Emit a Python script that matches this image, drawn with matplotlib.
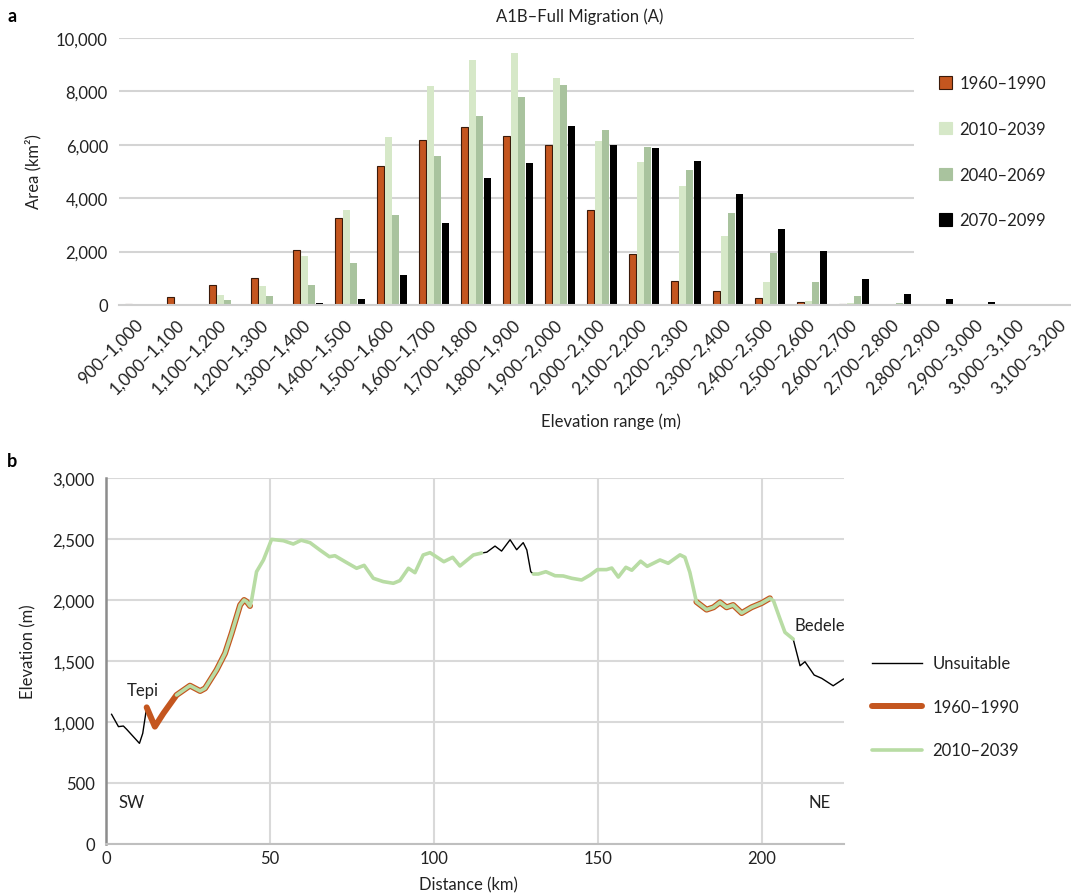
import numpy as np
import matplotlib.pyplot as plt
from matplotlib.patches import Patch
from matplotlib.lines import Line2D
from matplotlib.ticker import FuncFormatter

plt.rcParams['font.family'] = ['Lato', 'DejaVu Sans']

# ---- panel a data: area (km2) per elevation band ----
bands = ['900–1,000', '1,000–1,100', '1,100–1,200', '1,200–1,300', '1,300–1,400',
         '1,400–1,500', '1,500–1,600', '1,600–1,700', '1,700–1,800', '1,800–1,900',
         '1,900–2,000', '2,000–2,100', '2,100–2,200', '2,200–2,300', '2,300–2,400',
         '2,400–2,500', '2,500–2,600', '2,600–2,700', '2,700–2,800', '2,800–2,900',
         '2,900–3,000', '3,000–3,100', '3,100–3,200']
a1960 = [40, 310, 740, 1010, 2050, 3240, 5210, 6180, 6660, 6330, 5980, 3550,
         1910, 890, 530, 260, 100, 25, 0, 0, 0, 0, 0]
a2010 = [0, 15, 360, 710, 1830, 3560, 6300, 8210, 9190, 9430, 8510, 6160,
         5360, 4460, 2600, 860, 150, 60, 0, 0, 0, 0, 0]
a2040 = [0, 0, 175, 350, 760, 1580, 3380, 5590, 7080, 7790, 8230, 6550,
         5910, 5060, 3460, 1930, 860, 330, 70, 0, 0, 0, 0]
a2070 = [0, 0, 40, 40, 60, 230, 1130, 3080, 4750, 5330, 6710, 6000,
         5890, 5390, 4160, 2850, 2010, 960, 410, 220, 110, 50, 0]
periods = ['1960–1990', '2010–2039', '2040–2069', '2070–2099']

# ---- panel b data: elevation profile SW -> NE ----
dist = [1.7, 3.8, 5.3, 6.3, 10.2, 11.2, 12.4, 14.9, 17.5, 21.5, 25.6, 28.7, 30.2,
        33.7, 36.3, 38.3, 40.9, 42.1, 42.9, 43.9, 44.4, 45.9, 48.0, 50.5, 54.1,
        57.1, 59.5, 62.2, 65.2, 68.1, 69.8, 72.9, 76.4, 78.7, 81.5, 84.5, 87.6,
        89.6, 92.2, 94.2, 96.7, 98.8, 103.0, 105.7, 107.9, 112.0, 114.5, 116.1,
        118.6, 120.6, 123.2, 125.2, 127.2, 128.3, 129.5, 130.3, 131.8, 134.1,
        136.9, 139.4, 142.0, 145.0, 147.6, 149.8, 152.6, 154.2, 156.2, 158.5,
        160.3, 163.0, 165.0, 168.9, 171.4, 175.0, 176.5, 178.0, 180.0, 183.1,
        185.2, 187.2, 189.2, 191.2, 193.8, 196.8, 199.9, 202.4, 203.5, 205.5,
        207.0, 209.5, 211.6, 213.1, 215.9, 218.2, 221.7, 224.8]
elev = [1063, 962, 967, 940, 825, 907, 1120, 962, 1071, 1221, 1298, 1254, 1276,
        1426, 1563, 1727, 1959, 2000, 1986, 1951, 2000, 2232, 2328, 2497, 2486,
        2459, 2490, 2470, 2410, 2355, 2363, 2314, 2260, 2284, 2178, 2151, 2137,
        2159, 2260, 2224, 2369, 2388, 2314, 2350, 2279, 2369, 2385, 2392,
        2442, 2401, 2494, 2412, 2470, 2410, 2232, 2213, 2213, 2232,
        2199, 2197, 2178, 2164, 2205, 2249, 2249, 2262, 2188, 2268,
        2244, 2318, 2276, 2328, 2301, 2370, 2350, 2227, 1985, 1921,
        1940, 1981, 1940, 1959, 1893, 1940, 1975, 2014, 1994, 1844,
        1735, 1680, 1461, 1494, 1385, 1358, 1297, 1352]
suit1960 = [(12.4, 43.9), (180.0, 202.4)]
suit2010 = [(21.5, 114.5), (130.3, 209.5)]

orange = '#C4561F'
lgreen = '#D6E8C8'
mgreen = '#A9C39E'
lineg = '#B8DCA4'
txt = '#222222'

W, H = 1071, 895
fig = plt.figure(figsize=(W / 100, H / 100), dpi=100)

# ================= panel a =================
ax1 = fig.add_axes([119 / W, 1 - 306 / H, (1085 - 119) / W, (306 - 39) / H])
x = np.arange(len(bands))
bw = 0.165
offs = [-0.27, -0.09, 0.09, 0.27]
series = [a1960, a2010, a2040, a2070]
styles = [dict(color=orange, edgecolor='#3a1a0a', linewidth=0.8),
          dict(color=lgreen, edgecolor='none'),
          dict(color=mgreen, edgecolor='none'),
          dict(color='black', edgecolor='none')]
ax1.hlines([2000, 4000, 6000, 8000, 10000], -0.5, 18.42, color='#d4d4d4', lw=1.5, zorder=0)
for vals, off, st in zip(series, offs, styles):
    v = np.array(vals)
    m = v > 0
    ax1.bar(x[m] + off, v[m], width=bw, zorder=2, **st)
ax1.set_xlim(-0.5, 22.5)
ax1.set_ylim(0, 10000)
for s in ['top', 'right', 'left']:
    ax1.spines[s].set_visible(False)
ax1.spines['bottom'].set_color('#cfcfcf')
ax1.spines['bottom'].set_linewidth(1.5)
ax1.set_yticks(range(0, 10001, 2000))
ax1.yaxis.set_major_formatter(FuncFormatter(lambda v, p: f'{int(v):,}'))
ax1.set_xticks(x)
ax1.set_xticklabels(bands, rotation=45, ha='right', va='center', rotation_mode='anchor')
ax1.tick_params(axis='both', length=0, labelsize=12, colors=txt)
ax1.tick_params(axis='x', labelsize=12.5, pad=12)
ax1.tick_params(axis='y', pad=8)
fig.text(33 / W, 1 - 172 / H, 'Area (km²)', rotation=90, ha='center', va='center',
         fontsize=12, color=txt)
fig.text(611 / W, 1 - 422 / H, 'Elevation range (m)', ha='center', va='center',
         fontsize=12, color=txt)
fig.text(580 / W, 1 - 17 / H, 'A1B–Full Migration (A)', ha='center', va='center',
         fontsize=12, color=txt)
fig.text(12 / W, 1 - 17 / H, 'a', fontweight='bold', ha='center', va='center', fontsize=13)

hand_a = [Patch(facecolor=st['color'], edgecolor=st['edgecolor'] if st['edgecolor'] != 'none' else st['color'],
                linewidth=0.8) for st in styles]
fig.legend(hand_a, periods, loc='upper left', bbox_to_anchor=(931 / W, 1 - 68 / H),
           frameon=False, fontsize=12, handlelength=0.75, handleheight=0.75,
           handletextpad=0.45, labelspacing=1.78, borderpad=0, labelcolor=txt)

# ================= panel b =================
ax2 = fig.add_axes([106 / W, 1 - 845 / H, (844 - 106) / W, (845 - 479) / H])
km = np.array(dist)
el = np.array(elev)
ax2.plot(km, el, color='black', lw=1.0, zorder=3, solid_joinstyle='round')
for a, b in suit1960:
    m = (km >= a) & (km <= b)
    ax2.plot(km[m], el[m], color=orange, lw=4.3, zorder=4,
             solid_joinstyle='round', solid_capstyle='round')
for a, b in suit2010:
    m = (km >= a) & (km <= b)
    ax2.plot(km[m], el[m], color=lineg, lw=2.6, zorder=5,
             solid_joinstyle='round', solid_capstyle='round')
ax2.set_xlim(0, 225)
ax2.set_ylim(0, 3000)
ax2.set_xticks(range(0, 201, 50))
ax2.set_yticks(range(0, 3001, 500))
ax2.yaxis.set_major_formatter(FuncFormatter(lambda v, p: f'{int(v):,}'))
ax2.grid(True, color='#d9d9d9', lw=1.5)
ax2.set_axisbelow(True)
for s in ['top', 'right']:
    ax2.spines[s].set_visible(False)
ax2.spines['left'].set_color('#8c8c8c')
ax2.spines['left'].set_linewidth(1.8)
ax2.spines['bottom'].set_color('#bfbfbf')
ax2.spines['bottom'].set_linewidth(1.5)
ax2.tick_params(axis='both', length=0, labelsize=12, colors=txt)
ax2.tick_params(axis='x', pad=4)
ax2.tick_params(axis='y', pad=8)
ax2.text(11.3, 1262, 'Tepi', ha='center', va='center', fontsize=12, color=txt)
ax2.text(217.7, 1795, 'Bedele', ha='center', va='center', fontsize=12, color=txt)
ax2.text(7.9, 344, 'SW', ha='center', va='center', fontsize=12, color=txt)
ax2.text(217.5, 344, 'NE', ha='center', va='center', fontsize=12, color=txt)
fig.text(28 / W, 1 - 652 / H, 'Elevation (m)', rotation=90, ha='center', va='center',
         fontsize=12, color=txt)
fig.text(468 / W, 1 - 885 / H, 'Distance (km)', ha='center', va='center',
         fontsize=12, color=txt)
fig.text(12 / W, 1 - 462 / H, 'b', fontweight='bold', ha='center', va='center', fontsize=13)

hand_b = [Line2D([], [], color='black', lw=1.0),
          Line2D([], [], color=orange, lw=4.3, solid_capstyle='round'),
          Line2D([], [], color=lineg, lw=2.6, solid_capstyle='round')]
fig.legend(hand_b, ['Unsuitable', '1960–1990', '2010–2039'], loc='upper left',
           bbox_to_anchor=(864 / W, 1 - 648 / H), frameon=False, fontsize=12,
           handlelength=3.0, handletextpad=0.6, labelspacing=1.65, borderpad=0,
           labelcolor=txt)

fig.savefig('out.png', dpi=100)
